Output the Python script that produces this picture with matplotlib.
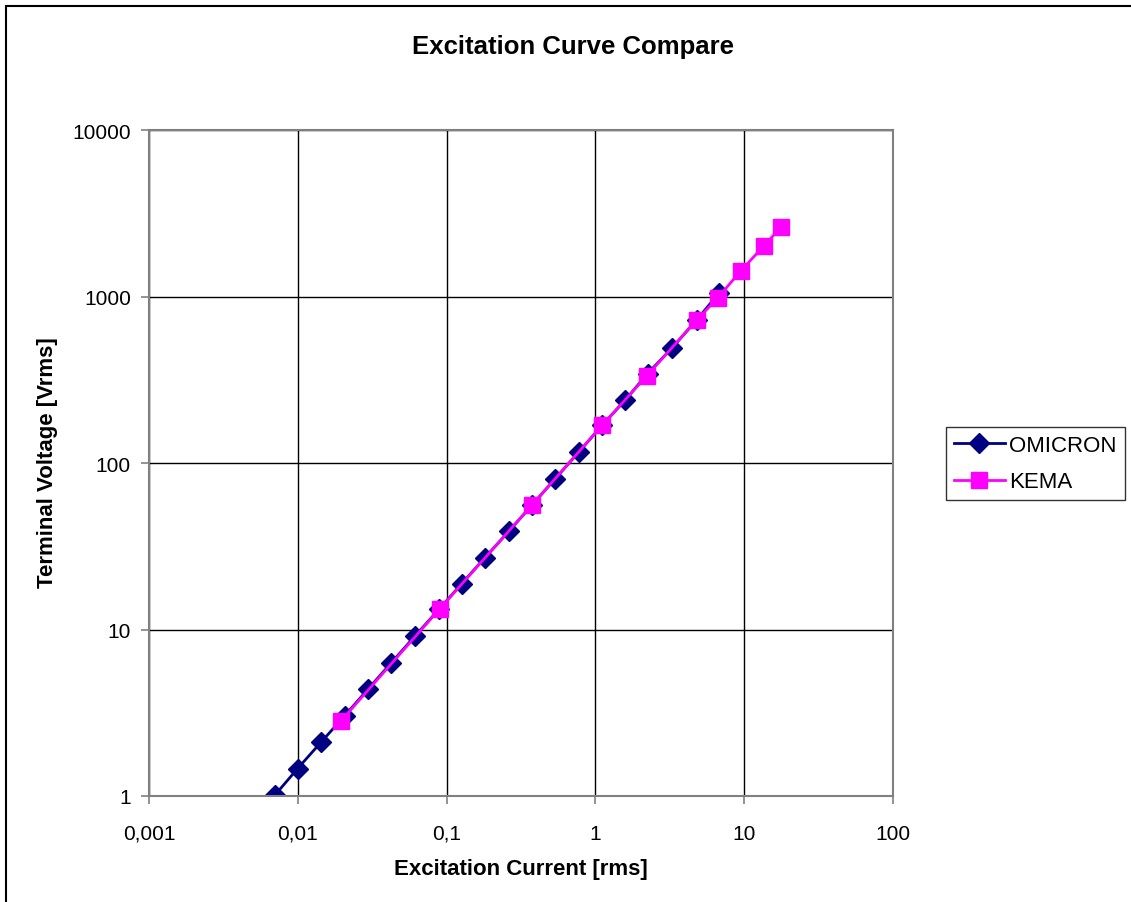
import matplotlib
matplotlib.use("Agg")
import matplotlib.pyplot as plt
import matplotlib.patches as mpatches
from matplotlib.ticker import FixedLocator, FixedFormatter, NullLocator

# data
omicron_current = [0.0070, 0.00996, 0.0143, 0.0207, 0.0296, 0.0425, 0.0610, 0.0888, 0.126, 0.181,
                   0.262, 0.375, 0.538, 0.771, 1.107, 1.588, 2.24, 3.29, 4.79, 6.76]
omicron_voltage = [1.01, 1.46, 2.10, 3.04, 4.38, 6.31, 9.09, 13.2, 18.8, 27.0,
                   38.9, 55.9, 80.6, 116, 168, 239, 344, 493, 723, 1047]

kema_current = [0.0196, 0.0899, 0.375, 1.114, 2.21, 4.80, 6.67, 9.49, 13.5, 17.8]
kema_voltage = [2.84, 13.3, 56.0, 169, 333, 723, 984, 1427, 2005, 2632]

x_ticks = [0.001, 0.01, 0.1, 1, 10, 100]
x_labels = ["0,001", "0,01", "0,1", "1", "10", "100"]
y_ticks = [1, 10, 100, 1000, 10000]
y_labels = ["1", "10", "100", "1000", "10000"]

plt.rcParams['font.family'] = ['Liberation Sans', 'DejaVu Sans']

W, H = 1131, 903
fig = plt.figure(figsize=(W / 100, H / 100), dpi=100)
ax = fig.add_axes([149 / W, 1 - 797 / H, (893 - 149) / W, (797 - 131) / H])

ax.plot(omicron_current, omicron_voltage, color='#000080', lw=2, marker='D',
        markersize=10.5, markerfacecolor='#000080', markeredgecolor='#000080', label='OMICRON')
ax.plot(kema_current, kema_voltage, color='#FF00FF', lw=2, marker='s',
        markersize=11, markerfacecolor='#FF00FF', markeredgecolor='#FF00FF', label='KEMA')

ax.set_xscale('log')
ax.set_yscale('log')
ax.set_xlim(0.001, 100)
ax.set_ylim(1, 10000)
ax.xaxis.set_major_locator(FixedLocator(x_ticks))
ax.xaxis.set_major_formatter(FixedFormatter(x_labels))
ax.xaxis.set_minor_locator(NullLocator())
ax.yaxis.set_major_locator(FixedLocator(y_ticks))
ax.yaxis.set_major_formatter(FixedFormatter(y_labels))
ax.yaxis.set_minor_locator(NullLocator())

ax.grid(True, color='black', lw=1)
ax.set_axisbelow(True)
for s in ax.spines.values():
    s.set_color('#808080')
    s.set_linewidth(1.5)
ax.tick_params(direction='out', length=6, width=1.2, color='#808080', labelsize=15)
ax.tick_params(axis='x', pad=14)
ax.tick_params(axis='y', pad=7)

fig.text(573 / W, 1 - 47 / H, 'Excitation Curve Compare', fontsize=18.5,
         fontweight='bold', ha='center', va='center')
fig.text(521 / W, 1 - 870 / H, 'Excitation Current [rms]', fontsize=16,
         fontweight='bold', ha='center', va='center')
fig.text(48 / W, 1 - 463 / H, 'Terminal Voltage [Vrms]', fontsize=16,
         fontweight='bold', ha='center', va='center', rotation=90)

leg = fig.legend(loc='upper left', bbox_to_anchor=(946 / W, 1 - 428 / H),
                 fontsize=16, frameon=True, fancybox=False, borderaxespad=0,
                 handlelength=2.3, handletextpad=0.2, borderpad=0.35, labelspacing=0.7)
leg.get_frame().set_edgecolor('black')
leg.get_frame().set_linewidth(1)

# outer chart frame
fig.add_artist(mpatches.Rectangle((6 / W, -0.1), 2, 1 - 7 / H + 0.1,
                                  transform=fig.transFigure, fill=False,
                                  edgecolor='black', lw=1.5))

fig.savefig('out.png', dpi=100)
